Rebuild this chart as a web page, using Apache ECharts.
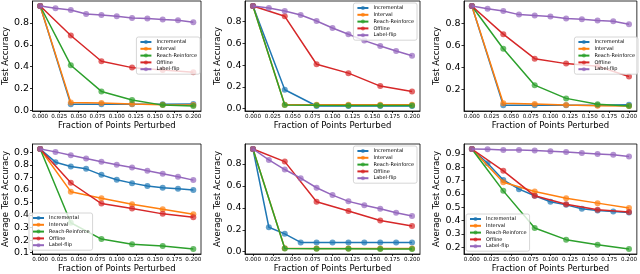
<!DOCTYPE html>
<html><head><meta charset="utf-8">
<script src="https://cdn.jsdelivr.net/npm/echarts@6/dist/echarts.min.js"></script>
<style>html,body{margin:0;padding:0;background:#fff}#c{width:640px;height:274px}</style>
</head><body><div id="c"></div>
<script>
const seriesNames = ['Incremental','Interval','Reach-Reinforce','Offline','Label-flip'];
const colors = ['#1f77b4','#ff7f0e','#2ca02c','#d62728','#9467bd'];
const xCoarse = [0,0.04,0.08,0.12,0.16,0.20];
const xFine = [0,0.02,0.04,0.06,0.08,0.10,0.12,0.14,0.16,0.18,0.20];
const xTicks = [0,0.025,0.05,0.075,0.1,0.125,0.15,0.175,0.2];

// Panel 1 (top-left)
const p1Incremental = [0.954,0.057,0.057,0.057,0.057,0.060];
const p1Interval    = [0.954,0.075,0.069,0.060,0.054,0.051];
const p1Reach       = [0.954,0.414,0.175,0.097,0.050,0.042];
const p1Offline     = [0.954,0.685,0.450,0.392,0.370,0.350];
const p1LabelFlip   = [0.954,0.933,0.918,0.881,0.872,0.860,0.845,0.839,0.830,0.824,0.806];
const p1YTicks = [0.0,0.2,0.4,0.6,0.8];

// Panel 2 (top-middle)
const p2Incremental = [0.944,0.174,0.025,0.025,0.025,0.025];
const p2Interval    = [0.944,0.037,0.037,0.037,0.037,0.037];
const p2Reach       = [0.944,0.034,0.031,0.030,0.030,0.030];
const p2Offline     = [0.944,0.849,0.409,0.327,0.208,0.159];
const p2LabelFlip   = [0.944,0.925,0.898,0.861,0.806,0.742,0.684,0.626,0.577,0.531,0.486];
const p2YTicks = [0.0,0.2,0.4,0.6,0.8];

// Panel 3 (top-right)
const p3Incremental = [0.956,0.056,0.056,0.056,0.056,0.062];
const p3Interval    = [0.956,0.074,0.068,0.059,0.053,0.050];
const p3Reach       = [0.956,0.569,0.239,0.119,0.065,0.050];
const p3Offline     = [0.956,0.701,0.479,0.434,0.410,0.317];
const p3LabelFlip   = [0.956,0.932,0.911,0.878,0.869,0.860,0.842,0.836,0.824,0.818,0.791];
const p3YTicks = [0.2,0.4,0.6,0.8];

// Panel 4 (bottom-left)
const p4Incremental = [0.926,0.821,0.786,0.768,0.720,0.681,0.654,0.631,0.617,0.610,0.600];
const p4Interval    = [0.926,0.586,0.533,0.485,0.446,0.406];
const p4Reach       = [0.926,0.338,0.208,0.166,0.153,0.129];
const p4Offline     = [0.926,0.657,0.491,0.451,0.409,0.383];
const p4LabelFlip   = [0.926,0.903,0.876,0.850,0.824,0.800,0.779,0.752,0.728,0.705,0.678];
const p4YTicks = [0.1,0.2,0.3,0.4,0.5,0.6,0.7,0.8,0.9];

// Panel 5 (bottom-middle)
const p5Incremental = [0.936,0.223,0.163,0.085,0.085,0.085,0.085,0.085,0.085,0.085,0.085];
const p5Interval    = [0.936,0.032,0.030,0.030,0.030,0.030];
const p5Reach       = [0.936,0.030,0.028,0.027,0.026,0.025];
const p5Offline     = [0.936,0.821,0.456,0.371,0.284,0.235];
const p5LabelFlip   = [0.936,0.836,0.749,0.670,0.583,0.516,0.459,0.423,0.392,0.356,0.326];
const p5YTicks = [0.0,0.2,0.4,0.6,0.8];

// Panel 6 (bottom-right)
const p6Incremental = [0.937,0.830,0.705,0.636,0.586,0.541,0.518,0.489,0.476,0.469,0.461];
const p6Interval    = [0.937,0.688,0.618,0.568,0.531,0.494];
const p6Reach       = [0.937,0.623,0.344,0.257,0.219,0.187];
const p6Offline     = [0.937,0.773,0.586,0.523,0.481,0.464];
const p6LabelFlip   = [0.937,0.935,0.930,0.930,0.925,0.920,0.915,0.907,0.900,0.893,0.880];
const p6YTicks = [0.2,0.3,0.4,0.5,0.6,0.7,0.8,0.9];

const panels = [
  {ys:[p1Incremental,p1Interval,p1Reach,p1Offline,p1LabelFlip], xs:[xCoarse,xCoarse,xCoarse,xCoarse,xFine], yt:p1YTicks, yname:'Test Accuracy'},
  {ys:[p2Incremental,p2Interval,p2Reach,p2Offline,p2LabelFlip], xs:[xCoarse,xCoarse,xCoarse,xCoarse,xFine], yt:p2YTicks, yname:'Test Accuracy'},
  {ys:[p3Incremental,p3Interval,p3Reach,p3Offline,p3LabelFlip], xs:[xCoarse,xCoarse,xCoarse,xCoarse,xFine], yt:p3YTicks, yname:'Test Accuracy'},
  {ys:[p4Incremental,p4Interval,p4Reach,p4Offline,p4LabelFlip], xs:[xFine,xCoarse,xCoarse,xCoarse,xFine], yt:p4YTicks, yname:'Average Test Accuracy'},
  {ys:[p5Incremental,p5Interval,p5Reach,p5Offline,p5LabelFlip], xs:[xFine,xCoarse,xCoarse,xCoarse,xFine], yt:p5YTicks, yname:'Average Test Accuracy'},
  {ys:[p6Incremental,p6Interval,p6Reach,p6Offline,p6LabelFlip], xs:[xFine,xCoarse,xCoarse,xCoarse,xFine], yt:p6YTicks, yname:'Average Test Accuracy'}
];

const gridPos = [
  {left:27, top:1, width:174, height:110},
  {left:245, top:1, width:175, height:110},
  {left:464, top:1, width:175, height:110},
  {left:27, top:144, width:174, height:111},
  {left:245, top:144, width:175, height:111},
  {left:464, top:144, width:175, height:111}
];
const legendPos = [
  {right:440, top:37},
  {right:223, top:3},
  {right:2, top:37},
  {left:29, top:213},
  {right:223, top:146},
  {left:466, top:214}
];
const yNameGap = [19,19,19,19,19,19];

const font = 'DejaVu Sans';
const grids=[], xAxes=[], yAxes=[], series=[], legends=[];
panels.forEach((p,gi)=>{
  grids.push(Object.assign({show:true, borderColor:'#000', borderWidth:0.8, backgroundColor:'#fff', containLabel:false}, gridPos[gi]));
  let all=[]; p.ys.forEach(a=>all=all.concat(a));
  const dmin=Math.min(...all), dmax=Math.max(...all), m=0.05*(dmax-dmin);
  xAxes.push({type:'value', gridIndex:gi, min:-0.01, max:0.21,
    name:'Fraction of Points Perturbed', nameLocation:'middle', nameGap:10,
    nameTextStyle:{fontFamily:font, fontSize:8.5, color:'#000'},
    axisLine:{show:true, onZero:false, lineStyle:{color:'#000', width:0.8}},
    axisTick:{show:true, length:2, customValues:xTicks, lineStyle:{color:'#000', width:0.8}},
    axisLabel:{show:true, customValues:xTicks, margin:3, fontFamily:font, fontSize:5.6, color:'#000', formatter:v=>v.toFixed(3)},
    splitLine:{show:false}});
  yAxes.push({type:'value', gridIndex:gi, min:dmin-m, max:dmax+m,
    name:p.yname, nameLocation:'middle', nameGap:yNameGap[gi],
    nameTextStyle:{fontFamily:font, fontSize:8.5, color:'#000'},
    axisLine:{show:true, onZero:false, lineStyle:{color:'#000', width:0.8}},
    axisTick:{show:true, length:2.5, customValues:p.yt, lineStyle:{color:'#000', width:0.8}},
    axisLabel:{show:true, customValues:p.yt, margin:3.5, fontFamily:font, fontSize:9.5, color:'#000', formatter:v=>v.toFixed(1)},
    splitLine:{show:false}});
  p.ys.forEach((ys,si)=>{
    series.push({type:'line', name:seriesNames[si], xAxisIndex:gi, yAxisIndex:gi,
      data:p.xs[si].map((x,i)=>[x,ys[i]]),
      symbol:'circle', symbolSize:6, showSymbol:true,
      lineStyle:{width:1.5, color:colors[si]},
      itemStyle:{color:colors[si], opacity:0.7},
      z:2+si, animation:false});
  });
  legends.push(Object.assign({orient:'vertical', data:seriesNames, itemWidth:11, itemHeight:5, itemGap:0.8,
    padding:[2,3,2,3], backgroundColor:'rgba(255,255,255,0.8)', borderColor:'#ccc', borderWidth:0.8, borderRadius:2,
    selectedMode:false, textStyle:{fontFamily:font, fontSize:5, lineHeight:6, color:'#000'}, z:10}, legendPos[gi]));
});

const chart = echarts.init(document.getElementById('c'), null, {renderer:'canvas'});
chart.setOption({animation:false, color:colors, grid:grids, xAxis:xAxes, yAxis:yAxes, series:series, legend:legends});
</script>
</body></html>
